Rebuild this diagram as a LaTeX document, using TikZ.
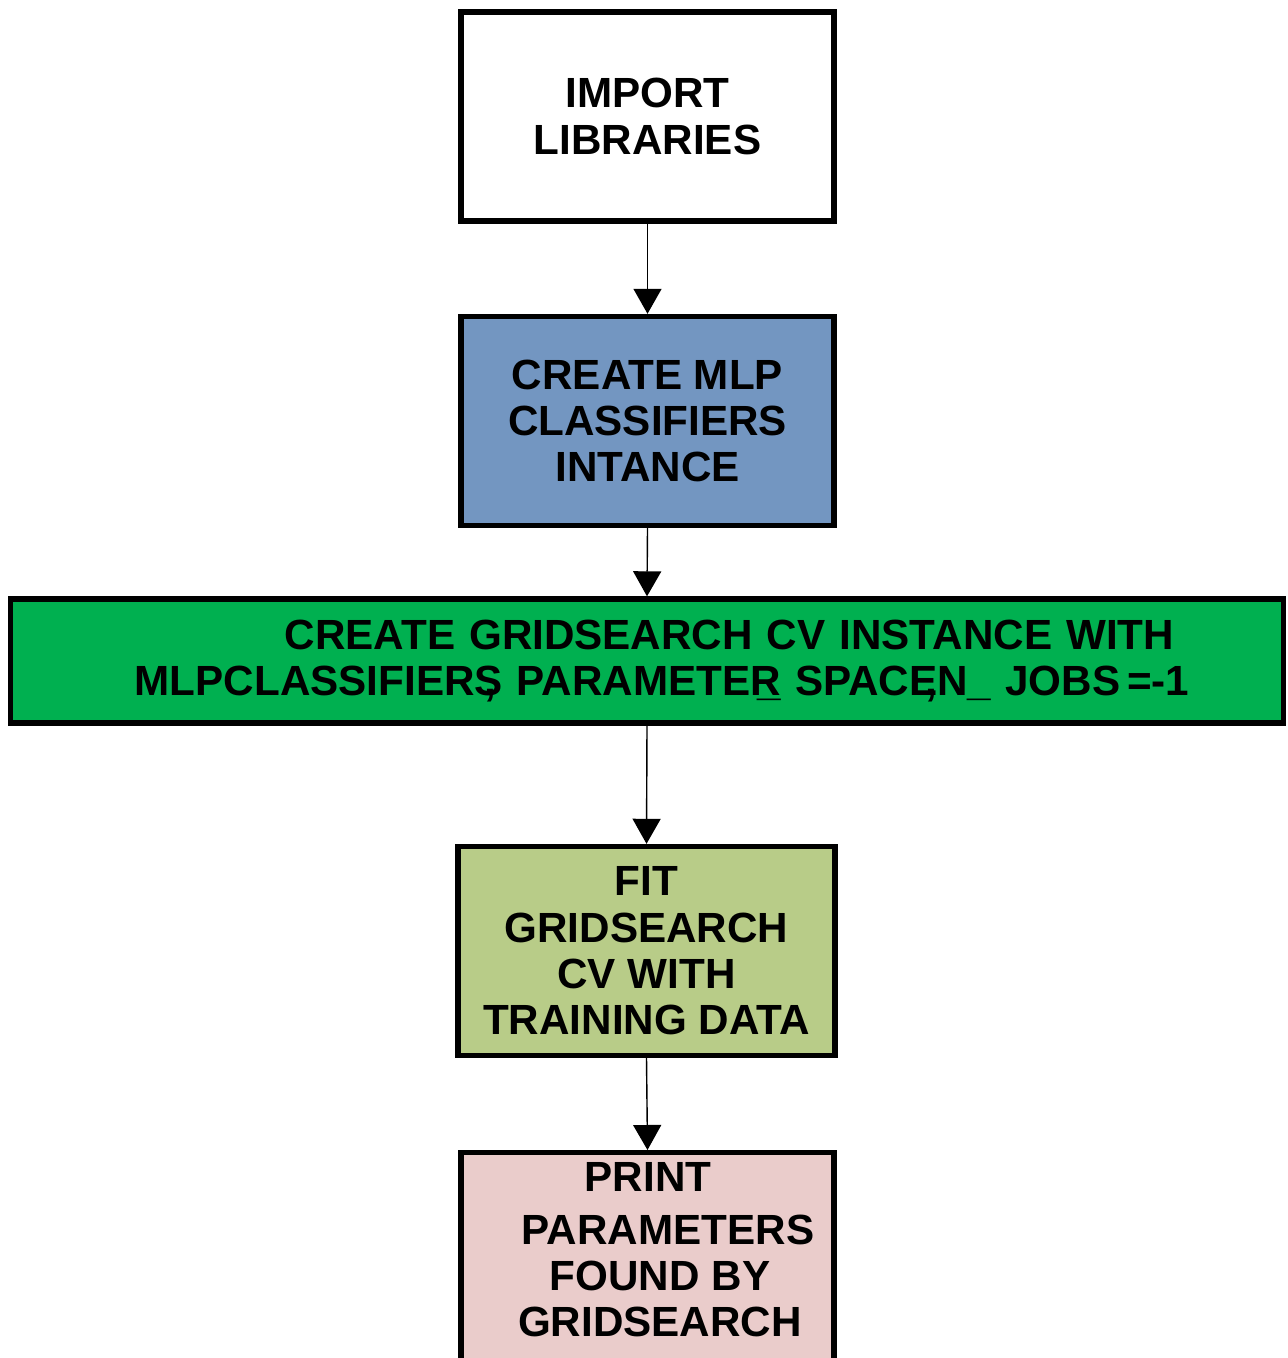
\documentclass[tikz,border=0pt]{standalone}
\usepackage{fontspec}
\setmainfont{Liberation Sans}
\usepackage{xcolor}
\definecolor{mlpblue}{RGB}{115,150,193}
\definecolor{gridgreen}{RGB}{0,176,80}
\definecolor{fitolive}{RGB}{184,204,136}
\definecolor{printpink}{RGB}{234,204,203}
\usepackage{tikz}
\usetikzlibrary{arrows.meta}

\begin{document}
\begin{tikzpicture}[x=0.01cm, y=-0.01cm, font=\fontsize{12}{13.2}\selectfont\bfseries, >={Triangle[width=2.8mm,length=2.5mm]}]
\tikzset{stepbox/.style={draw, line width=1.5pt, minimum width=3.73cm, minimum height=2.09cm, align=center, inner sep=0pt},
  flow/.style={->, line width=0.4pt}}
\useasboundingbox (0,0) rectangle (1287,1358);
\clip (0,0) rectangle (1287,1358);
\node[stepbox, fill=white]     (imp) at (647.5,116.5) {IMPORT\\LIBRARIES};
\node[stepbox, fill=mlpblue]   (mlp) at (647.5,421)   {CREATE MLP\\CLASSIFIERS\\INTANCE};
\node[stepbox, fill=gridgreen, minimum width=12.72cm, text width=12.72cm, minimum height=1.24cm, align=left] (grid) at (647,661)
  {\hspace*{2.74cm}CREATE GRIDSEARCH CV INSTANCE WITH\\
   \hspace*{1.24cm}MLPCLASSIFIERS\llap{,\,} PARAMETER\llap{\_}\ SPACE\llap{,}N\_\ JOBS\,=-1};
\node[stepbox, fill=fitolive, minimum width=3.77cm]  (fit) at (646.5,951) {FIT\\GRIDSEARCH\\CV WITH\\TRAINING DATA};
\node[stepbox, fill=printpink, minimum height=2.7cm, anchor=north] (prt) at (647.5,1150) {};
\node[align=center] (prtxt) at (660,1250)
  {PRINT\hspace*{0.24cm}\\[0.06cm]\hspace*{0.16cm}PARAMETERS\\FOUND BY\hspace*{0.22cm}\\GRIDSEARCH};
\draw[flow] (imp.south) -- (mlp.north);
\draw[flow] (mlp.south) -- (grid.north);
\draw[flow] (grid.south) -- (fit.north);
\draw[flow] (fit.south) -- (prt.north);
\end{tikzpicture}
\end{document}
